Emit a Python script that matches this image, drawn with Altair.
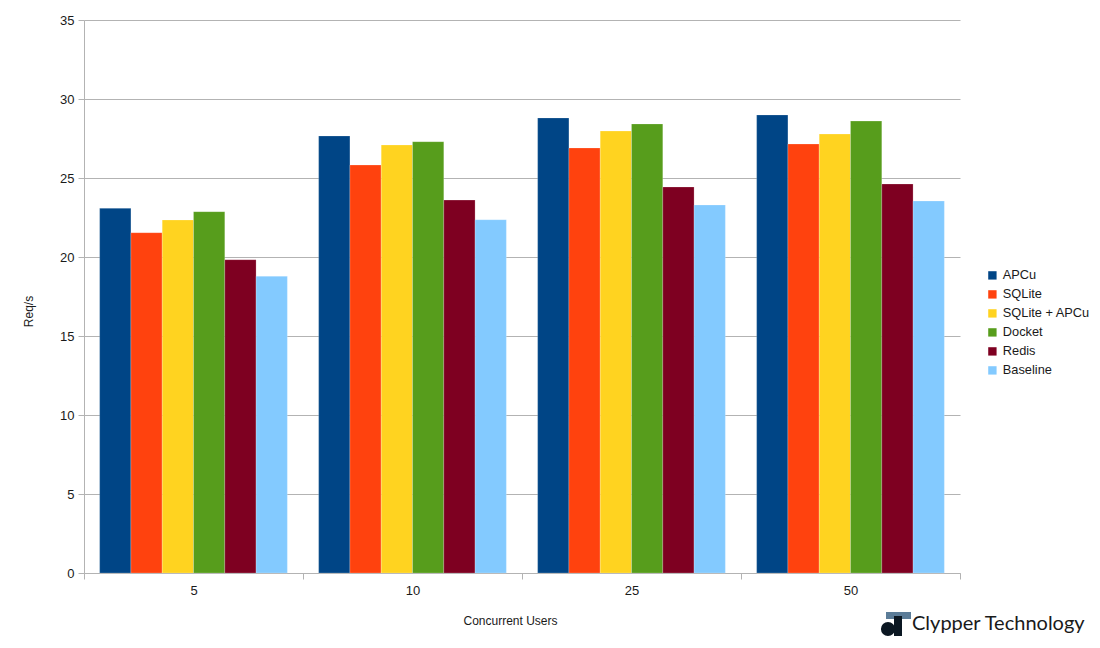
import altair as alt
import pandas as pd

groups = ["5", "10", "25", "50"]
series = ["APCu", "SQLite", "SQLite + APCu", "Docket", "Redis", "Baseline"]
colors = ["#004586", "#ff420e", "#ffd320", "#579d1c", "#7e0021", "#83caff"]

apcu = [23.08, 27.66, 28.80, 28.99]
sqlite = [21.54, 25.82, 26.90, 27.15]
sqlite_apcu = [22.34, 27.09, 27.97, 27.78]
docket = [22.87, 27.30, 28.42, 28.60]
redis = [19.83, 23.60, 24.43, 24.62]
baseline = [18.78, 22.36, 23.29, 23.54]

values = [apcu, sqlite, sqlite_apcu, docket, redis, baseline]
rows = []
for s, vals in zip(series, values):
    for g, v in zip(groups, vals):
        rows.append({"users": g, "series": s, "reqs": v})
df = pd.DataFrame(rows)

FONT = "Liberation Sans"
GRID = "#b3b3b3"

bars = alt.Chart(df).mark_bar(stroke="white", strokeOpacity=0.25, strokeWidth=0.8).encode(
    x=alt.X("users:N", sort=groups,
            scale=alt.Scale(paddingInner=0, paddingOuter=0),
            axis=alt.Axis(title="Concurrent Users", labelAngle=0, tickBand="extent",
                          titleX=426, titleY=47, titleBaseline="middle",
                          titleAlign="center")),
    xOffset=alt.XOffset("series:N", sort=series,
                        scale=alt.Scale(paddingInner=0, paddingOuter=0.5)),
    y=alt.Y("reqs:Q", scale=alt.Scale(domain=[0, 35]),
            axis=alt.Axis(title="Req/s", values=[0, 5, 10, 15, 20, 25, 30, 35],
                          titleX=-56, titleY=291, titleAngle=-90,
                          titleAlign="center", titleBaseline="middle")),
    color=alt.Color("series:N", sort=series,
                    scale=alt.Scale(domain=series, range=colors),
                    legend=alt.Legend(title=None, orient="none", legendX=902,
                                      legendY=249, symbolType="square",
                                      symbolSize=70, symbolStrokeWidth=0,
                                      labelFontSize=12.8, labelFont=FONT,
                                      labelColor="#1a1a1a", rowPadding=5,
                                      labelOffset=4)),
)

logo_df = pd.DataFrame({"t": ["Clypper Technology"]})
logo_text = alt.Chart(logo_df).mark_text(
    font="Lato", fontSize=20, color="#1a1a1a", align="left", baseline="middle"
).encode(x=alt.value(828), y=alt.value(604), text="t:N")

logo_circle = alt.Chart(logo_df).mark_point(
    filled=True, shape="circle", size=200, color="#0b1722", opacity=1
).encode(x=alt.value(804), y=alt.value(609))

logo_bar = alt.Chart(logo_df).mark_rect(color="#5b7c98").encode(
    x=alt.value(802), x2=alt.value(827), y=alt.value(592), y2=alt.value(599)
)
logo_stem = alt.Chart(logo_df).mark_rect(color="#0b1722").encode(
    x=alt.value(810), x2=alt.value(818), y=alt.value(596), y2=alt.value(616)
)

chart = alt.layer(bars, logo_circle, logo_bar, logo_stem, logo_text).properties(
    width=876, height=553,
    autosize=alt.AutoSizeParams(type="none"),
    padding={"left": 76, "top": 12, "right": 132, "bottom": 67},
).configure_view(stroke=None).configure_axis(
    labelFont=FONT, titleFont=FONT, labelFontSize=13, titleFontSize=12,
    labelColor="#1a1a1a", titleColor="#1a1a1a", titleFontWeight="normal",
    domainColor=GRID, tickColor=GRID, gridColor=GRID, tickSize=6,
).configure_axisX(grid=False, labelPadding=5).configure_axisY(
    grid=True, labelPadding=4
).configure_legend(labelFont=FONT)

chart.save("out.html", embed_options={"renderer": "svg", "actions": False})
